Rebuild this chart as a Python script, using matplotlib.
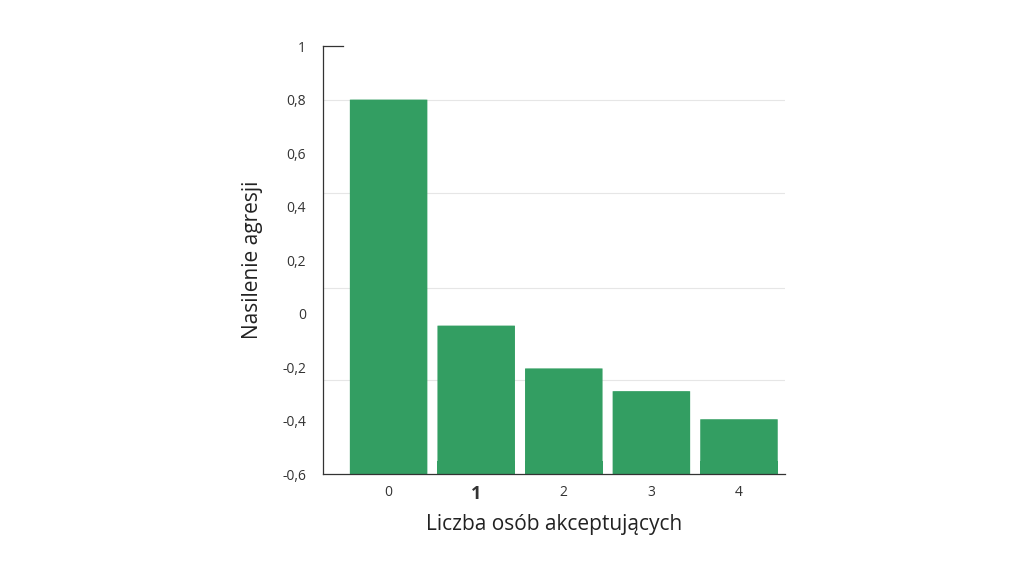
import matplotlib.pyplot as plt
from matplotlib.patches import FancyBboxPatch

categories = ["0", "1", "2", "3", "4"]
values = [0.80, -0.045, -0.205, -0.29, -0.395]
yticks = [1, 0.8, 0.6, 0.4, 0.2, 0, -0.2, -0.4, -0.6]
ytick_labels = ["1", "0,8", "0,6", "0,4", "0,2", "0", "-0,2", "-0,4", "-0,6"]
grid_levels = [0.8, 0.452, 0.097, -0.25]
base = -0.6

plt.rcParams['font.family'] = ['Open Sans', 'DejaVu Sans']
fig = plt.figure(figsize=(10.24, 5.76), dpi=100)
ax = fig.add_axes([0.315, 0.177, 0.452, 0.743])

for g in grid_levels:
    ax.axhline(g, color="#e6e6e6", lw=0.8, zorder=0)

color = "#339e62"
width = 0.885
for i, v in enumerate(values):
    p = FancyBboxPatch((i - width / 2, base), width, v - base,
                       boxstyle="round,pad=0,rounding_size=0.04",
                       mutation_aspect=0.01, fc=color, ec="none", zorder=2)
    ax.add_patch(p)
    ax.bar(i, 0.05, bottom=base, width=width, color=color, zorder=2)

ax.set_xlim(-0.754, 4.53)
ax.set_ylim(-0.6, 1.0)
ax.set_xticks(range(len(categories)))
ax.set_xticklabels(categories, fontsize=10, color="#333333")
lbl = ax.get_xticklabels()[1]
lbl.set_fontweight("bold")
lbl.set_fontsize(13)
ax.set_yticks(yticks)
ax.set_yticklabels(ytick_labels, fontsize=10, color="#333333")
ax.tick_params(axis="x", length=0, pad=8)
ax.tick_params(axis="y", length=0, pad=12)
ax.plot([0, 0.045], [1, 1], transform=ax.get_yaxis_transform(), color="#333333", lw=0.9, clip_on=False)
for s in ["top", "right"]:
    ax.spines[s].set_visible(False)
for s in ["left", "bottom"]:
    ax.spines[s].set_color("#333333")
    ax.spines[s].set_linewidth(0.9)
ax.set_xlabel("Liczba osób akceptujących", fontsize=15, color="#222222", labelpad=8)
ax.set_ylabel("Nasilenie agresji", fontsize=15, color="#222222", labelpad=14)

fig.savefig("out.png", dpi=100)
